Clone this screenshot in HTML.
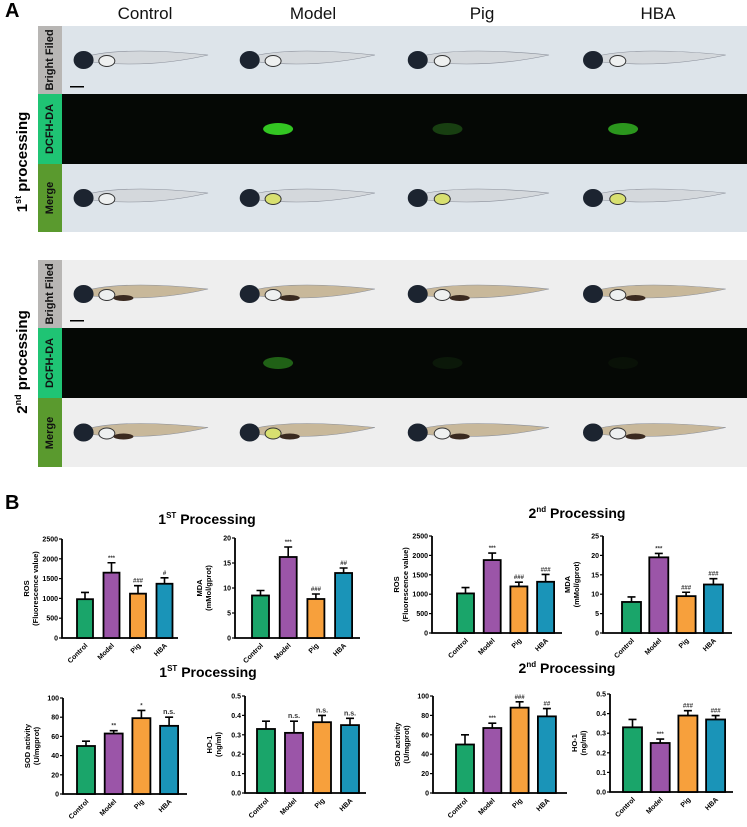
<!DOCTYPE html>
<html><head><meta charset="utf-8">
<style>
body{margin:0;width:747px;height:827px;background:#fff;position:relative;overflow:hidden;font-family:"Liberation Sans",Arial,sans-serif}
.abs{position:absolute}
.hdr{position:absolute;top:4px;font-size:17px;color:#111;text-align:center;width:170px}
.lab{position:absolute;left:38px;width:24px;color:#111;font-weight:bold;font-size:11px}
.lab span{position:absolute;left:50%;top:50%;transform:translate(-50%,-50%) rotate(-90deg);white-space:nowrap}
.img{position:absolute;overflow:hidden}
.side{position:absolute;left:22px;font-weight:bold;font-size:15px;transform:translate(-50%,-50%) rotate(-90deg);white-space:nowrap}
</style></head><body>
<div class="abs" style="left:5px;top:0;font-size:20px;font-weight:bold">A</div>
<div class="hdr" style="left:60px">Control</div>
<div class="hdr" style="left:228px">Model</div>
<div class="hdr" style="left:397px">Pig</div>
<div class="hdr" style="left:573px">HBA</div>
<div class="side" style="top:162px">1<sup style="font-size:9px">st</sup> processing</div>
<div class="side" style="top:362px">2<sup style="font-size:9px">nd</sup> processing</div>
<div id="grid"></div>
<div class="abs" style="left:5px;top:492px;font-size:20px;font-weight:bold">B</div>
<svg id="charts" width="747" height="827" style="position:absolute;left:0;top:0"></svg>
<script>
// Panel A grid
const cols=[[62,228],[228,395],[395,570],[570,747]];
const rows1=[[26,94,'bf'],[94,164,'fl'],[164,232,'mg']];
const rows2=[[260,328,'bf'],[328,398,'fl'],[398,467,'mg']];
const labels={bf:['Bright Filed','#b8b6b4'],fl:['DCFH-DA','#1fc474'],mg:['Merge','#5a9a2e']};
const glow=[0,0.85,0.35,0.7];
const glow2=[0,0.5,0.12,0.08];
const grid=document.getElementById('grid');
function addGroup(rows,bg,dark,gl,tag){
  rows.forEach(r=>{
    const l=document.createElement('div');
    l.className='lab';
    l.style.top=r[0]+'px';l.style.height=(r[1]-r[0])+'px';l.style.background=labels[r[2]][1];
    l.innerHTML='<span>'+labels[r[2]][0]+'</span>';
    
    
    grid.appendChild(l);
    cols.forEach((c,i)=>{
      const d=document.createElement('div');
      d.className='img';
      d.style.left=c[0]+'px';d.style.top=r[0]+'px';d.style.width=(c[1]-c[0])+'px';d.style.height=(r[1]-r[0])+'px';
      
      
      const h=r[1]-r[0], w=c[1]-c[0], cy=h*0.5;
      let s='<svg width="'+w+'" height="'+h+'">';
      if(r[2]==='fl'){
        s+='<rect width="'+w+'" height="'+h+'" fill="#050805"/>';
        if(gl[i]>0) s+='<ellipse cx="'+(w*0.3)+'" cy="'+cy+'" rx="15" ry="6" fill="rgb(60,'+Math.round(120+gl[i]*130)+',40)" opacity="'+gl[i]+'"/>';
      } else {
        s+='<rect width="'+w+'" height="'+h+'" fill="'+bg+'"/>';
        s+='<path d="M'+(w*0.08)+' '+cy+' Q'+(w*0.3)+' '+(cy-15)+' '+(w*0.88)+' '+(cy-5)+' Q'+(w*0.5)+' '+(cy+10)+' '+(w*0.08)+' '+cy+'Z" fill="'+(dark?'#c8b89a':'#d4d8dc')+'" stroke="#8a8f9a" stroke-width="0.6"/>';
        s+='<ellipse cx="'+(w*0.13)+'" cy="'+cy+'" rx="10" ry="9" fill="#1c2430"/>';
        s+='<ellipse cx="'+(w*0.27)+'" cy="'+(cy+1)+'" rx="8" ry="5.5" fill="'+(r[2]==='mg'&&gl[i]>0.3?'#d8e070':'#eef0f0')+'" stroke="#333" stroke-width="1"/>';
        if(dark) s+='<ellipse cx="'+(w*0.37)+'" cy="'+(cy+4)+'" rx="10" ry="3" fill="#3a2a20"/>';
        if(r[2]==='bf'&&i===0) s+='<rect x="8" y="'+(h-8)+'" width="14" height="1.5" fill="#000"/>';
      }
      s+='</svg>';
      d.innerHTML=s;
      grid.appendChild(d);
    });
  });
}
addGroup(rows1,'#dde4ea',false,glow,'1st');
addGroup(rows2,'#eeeeee',true,glow2,'2nd');
</script>
<script>
// Chart data
const categories=['Control','Model','Pig','HBA'];
const colors=['#1aa56a','#9b55a8','#f7a03c','#1a94b8'];
const ros1=[980,1650,1120,1370], ros1Err=[170,250,200,150], ros1Sig=['','***','###','#'];
const mda1=[8.5,16.2,7.8,13], mda1Err=[1,2,1,1], mda1Sig=['','***','###','##'];
const sod1=[50,63,79,71], sod1Err=[5,3,8,9], sod1Sig=['','**','*','n.s.'];
const ho1=[0.33,0.31,0.365,0.35], ho1Err=[0.04,0.06,0.035,0.035], ho1Sig=['','n.s.','n.s.','n.s.'];
const ros2=[1020,1880,1200,1320], ros2Err=[150,180,110,190], ros2Sig=['','***','###','###'];
const mda2=[8,19.5,9.5,12.5], mda2Err=[1.3,1,1,1.5], mda2Sig=['','***','###','###'];
const sod2=[50,67,88,79], sod2Err=[10,5,6,8], sod2Sig=['','***','###','##'];
const ho2=[0.33,0.25,0.39,0.37], ho2Err=[0.04,0.02,0.025,0.02], ho2Sig=['','***','###','###'];
const rosTicks=[0,500,1000,1500,2000,2500];
const mda1Ticks=[0,5,10,15,20];
const mda2Ticks=[0,5,10,15,20,25];
const sodTicks=[0,20,40,60,80,100];
const hoTicks=['0.0','0.1','0.2','0.3','0.4','0.5'];

const svg=document.getElementById('charts');
const NS='http://www.w3.org/2000/svg';
function el(tag,attrs,parent,text){const e=document.createElementNS(NS,tag);for(const k in attrs)e.setAttribute(k,attrs[k]);if(text!==undefined)e.textContent=text;(parent||svg).appendChild(e);return e;}

function chart(name,g,vals,errs,sigs,ticks,yl1,yl2){
  const grp=el('g',{});
  
  
  const tv=ticks.map(Number), ymax=tv[tv.length-1];
  const y=v=>g.y0-(v/ymax)*(g.y0-g.yt);
  const x=i=>g.b0+i*g.step;
  const ax=el('path',{d:'M'+g.x0+' '+g.yt+' V'+g.y0+' H'+g.xe,stroke:'#000','stroke-width':1.8,fill:'none'},grp);
  
  
  ticks.forEach(t=>{
    const ty=y(Number(t));
    el('line',{x1:g.x0-3,x2:g.x0,y1:ty,y2:ty,stroke:'#000','stroke-width':1.2},grp);
    const tl=el('text',{x:g.x0-4,y:ty+2.5,'text-anchor':'end','font-size':7,'font-weight':'bold'},grp,t);
    
    
  });
  const cy=(g.yt+g.y0)/2;
  const yt=el('text',{transform:'translate('+(g.x0-33)+','+cy+') rotate(-90)','text-anchor':'middle','font-size':7.5,'font-weight':'bold'},grp);
  
  
  el('tspan',{x:0,dy:0},yt,yl1);
  el('tspan',{x:0,dy:9},yt,yl2);
  vals.forEach((v,i)=>{
    const bx=x(i), top=y(v), eTop=y(v+errs[i]), cx=bx+g.w/2;
    const eb=el('path',{d:'M'+cx+' '+top+' V'+eTop+' M'+(cx-4)+' '+eTop+' H'+(cx+4),stroke:'#000','stroke-width':1.6,fill:'none'},grp);
    
    
    const b=el('rect',{x:bx,y:top,width:g.w,height:g.y0-top,fill:colors[i],stroke:'#000','stroke-width':1.8},grp);
    
    
    if(sigs[i]){
      const s=el('text',{x:cx,y:eTop-3,'text-anchor':'middle','font-size':sigs[i]==='n.s.'?7:6,'font-weight':'bold',fill:'#333'},grp,sigs[i]);
      
      
    }
    const cl=el('text',{transform:'translate('+(cx+3)+','+(g.y0+8)+') rotate(-45)','text-anchor':'end','font-size':7,'font-weight':'bold'},grp,categories[i]);
    
    
  });
}
chart('ros-1st',{x0:62,xe:178,y0:638,yt:539,b0:77,step:26.5,w:16},ros1,ros1Err,ros1Sig,rosTicks,'ROS','(Fluorescence value)');
chart('mda-1st',{x0:235,xe:360,y0:638,yt:538,b0:252,step:27.7,w:17},mda1,mda1Err,mda1Sig,mda1Ticks,'MDA','(mMol/gprot)');
chart('sod-1st',{x0:63,xe:187,y0:794,yt:698,b0:77,step:27.7,w:18},sod1,sod1Err,sod1Sig,sodTicks,'SOD activity','(U/mgprot)');
chart('ho1-1st',{x0:245,xe:366,y0:793,yt:696,b0:257,step:28,w:18},ho1,ho1Err,ho1Sig,hoTicks,'HO-1','(ng/ml)');
chart('ros-2nd',{x0:432,xe:562,y0:633,yt:536,b0:457,step:26.7,w:17},ros2,ros2Err,ros2Sig,rosTicks,'ROS','(Fluorescence value)');
chart('mda-2nd',{x0:603,xe:732,y0:633,yt:536,b0:622,step:27.3,w:19},mda2,mda2Err,mda2Sig,mda2Ticks,'MDA','(mMol/gprot)');
chart('sod-2nd',{x0:433,xe:567,y0:793,yt:696,b0:456,step:27.3,w:18},sod2,sod2Err,sod2Sig,sodTicks,'SOD activity','(U/mgprot)');
chart('ho1-2nd',{x0:610,xe:733,y0:792,yt:694,b0:623,step:27.7,w:19},ho2,ho2Err,ho2Sig,hoTicks,'HO-1','(ng/ml)');

function title(name,cx,cy,sup){
  const t=el('text',{x:cx,y:cy,'text-anchor':'middle','font-size':14,'font-weight':'bold'});
  
  
  el('tspan',{},t,sup[0]);
  el('tspan',{'font-size':8,dy:-6},t,sup[1]);
  el('tspan',{dy:6},t,' Processing');
}
title('title-1st-top',207,524,['1','ST']);
title('title-2nd-top',577,518,['2','nd']);
title('title-1st-bottom',208,677,['1','ST']);
title('title-2nd-bottom',567,673,['2','nd']);
</script>
</body></html>
